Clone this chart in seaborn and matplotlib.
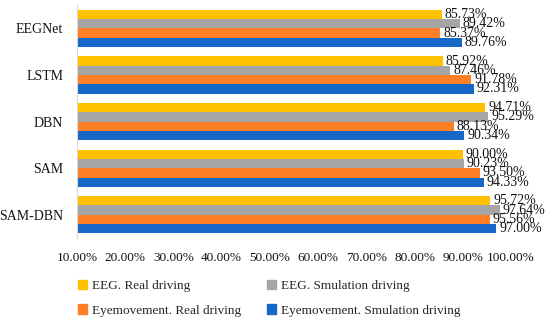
import pandas as pd
import matplotlib.pyplot as plt
import seaborn as sns
from matplotlib.ticker import FuncFormatter

# chart values (accuracy, fraction)
models = ["EEGNet", "LSTM", "DBN", "SAM", "SAM-DBN"]
series = ["EEG. Real driving", "EEG. Smulation driving",
          "Eyemovement. Real driving", "Eyemovement. Smulation driving"]
eeg_real = [0.8573, 0.8592, 0.9471, 0.9000, 0.9572]
eeg_sim = [0.8942, 0.8746, 0.9529, 0.9023, 0.9764]
eye_real = [0.8537, 0.9178, 0.8813, 0.9350, 0.9556]
eye_sim = [0.8976, 0.9231, 0.9034, 0.9433, 0.9700]
xticks = [0.1, 0.2, 0.3, 0.4, 0.5, 0.6, 0.7, 0.8, 0.9, 1.0]

colors = ["#FFC000", "#A5A5A5", "#FF7F27", "#1667C8"]

rows = []
for s, vals in zip(series, [eeg_real, eeg_sim, eye_real, eye_sim]):
    for m, v in zip(models, vals):
        rows.append({"model": m, "series": s, "value": v})
df = pd.DataFrame(rows)

sns.set_style("white")
plt.rcParams['font.family'] = ['Liberation Serif', 'DejaVu Serif']

fig = plt.figure(figsize=(5.5, 3.2), dpi=100)
ax = fig.add_axes([0.14, 0.256, 0.789, 0.728])

sns.barplot(data=df, y="model", x="value", hue="series", order=models,
            hue_order=series, palette=colors, orient="h", width=0.8,
            gap=0, saturation=1, errorbar=None, ax=ax, legend=False,
            linewidth=0)

for cont in ax.containers:
    ax.bar_label(cont, labels=[f"{b.get_width()*100:.2f}%" for b in cont],
                 padding=2, fontsize=10, color="#111111")

ax.set_xlim(0.1, 1.0)
ax.set_ylim(4.5, -0.5)
ax.set_xticks(xticks)
ax.xaxis.set_major_formatter(FuncFormatter(lambda v, p: f"{v*100:.2f}%"))
ax.tick_params(axis="both", length=0, labelsize=9.5, colors="#111111")
ax.tick_params(axis="y", labelsize=10)
ax.tick_params(axis="x", pad=10)
ax.tick_params(axis="y", pad=10)
ax.set_xlabel("")
ax.set_ylabel("")
for side in ["top", "right", "bottom"]:
    ax.spines[side].set_visible(False)
ax.spines["left"].set_color("#D9D9D9")

# legend filled row by row like the reference
handles = [plt.Rectangle((0, 0), 1, 1, color=c) for c in colors]
order = [0, 2, 1, 3]
fig.legend([handles[i] for i in order], [series[i] for i in order],
           ncol=2, loc="upper left",
           bbox_to_anchor=(0.12, 0.163), frameon=False, fontsize=9.5,
           handlelength=0.7, handleheight=0.7, handletextpad=0.4,
           columnspacing=1.9, labelspacing=0.95)

plt.savefig("out.png", dpi=100)
plt.close()
